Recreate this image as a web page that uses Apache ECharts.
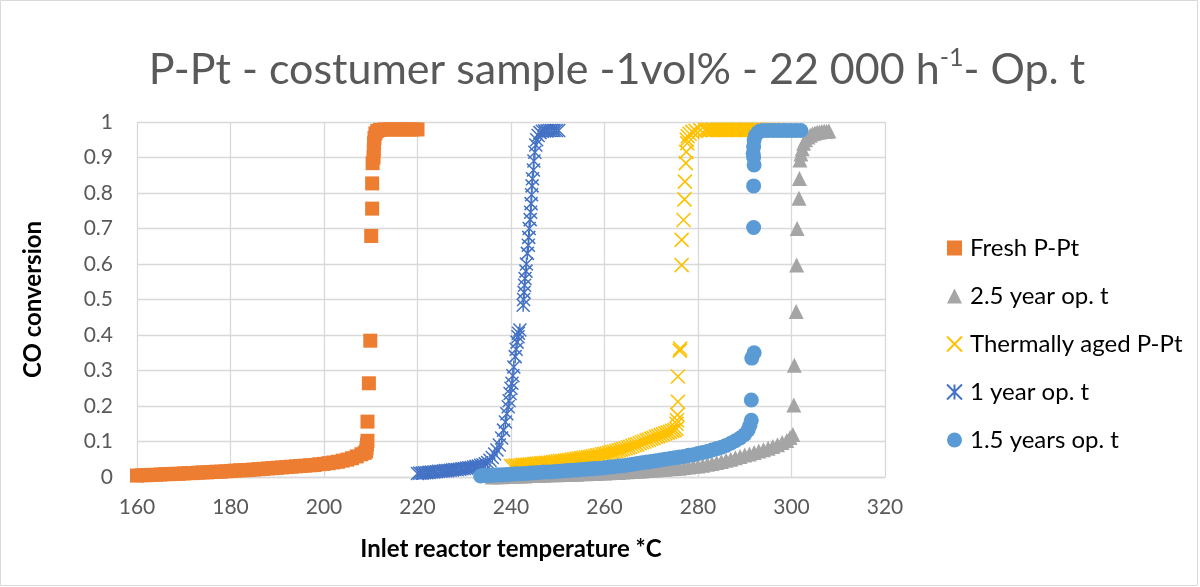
<!DOCTYPE html>
<html>
<head>
<meta charset="utf-8">
<script src="https://cdn.jsdelivr.net/npm/echarts@6/dist/echarts.min.js"></script>
<style>
html,body{margin:0;padding:0;background:#fff;}
#chart{width:1200px;height:587px;}
</style>
</head>
<body>
<div id="chart"></div>
<script>
// ---- data: [temperature °C, CO conversion] ----
var seriesNames = ['Fresh P-Pt', '2.5 year op. t', 'Thermally aged P-Pt', '1 year op. t', '1.5 years op. t'];
var xTicks = [160, 180, 200, 220, 240, 260, 280, 300, 320];
var yTicks = [0, 0.1, 0.2, 0.3, 0.4, 0.5, 0.6, 0.7, 0.8, 0.9, 1];

var freshData = [
  [160,.004],[161,.005],[162,.005],[163,.006],[164,.006],[165,.007],[166,.008],[167,.008],[168,.009],[169,.009],
  [170,.010],[171,.011],[172,.011],[173,.012],[174,.013],[175,.013],[176,.014],[177,.015],[178,.015],[179,.016],
  [180,.017],[181,.018],[182,.019],[183,.019],[184,.020],[185,.021],[186,.022],[187,.023],[188,.024],[189,.025],
  [190,.026],[191,.027],[192,.028],[193,.029],[194,.030],[195,.031],[196,.032],[197,.033],[198,.034],[199,.036],
  [200,.037],[201,.039],[202,.041],[203,.043],[204,.046],[205,.049],[206,.053],[207,.058],[208,.064],[208.7,.068],
  [209,.072],[209.1,.082],[209.2,.092],[209.3,.102],
  [209.3,.156],[209.6,.264],[209.9,.384],[210.1,.679],[210.3,.756],[210.3,.827],[210.4,.884],
  [210.6,.90],[210.65,.92],[210.7,.94],[210.8,.955],[211,.968],[211.4,.975],[212,.978],[213,.979],[214,.979],
  [215,.979],[216,.979],[217,.979],[218,.979],[219,.979],[220,.979]
];

var grayData = [
  [236,.000],[237,.001],[238,.001],[239,.002],[240,.002],[241,.003],[242,.003],[243,.003],[244,.004],[245,.004],
  [246,.005],[247,.005],[248,.006],[249,.006],[250,.006],[251,.007],[252,.007],[253,.008],[254,.008],[255,.009],
  [256,.009],[257,.010],[258,.010],[259,.011],[260,.011],[261,.012],[262,.013],[263,.013],[264,.014],[265,.015],
  [266,.016],[267,.016],[268,.017],[269,.018],[270,.019],[271,.020],[272,.021],[273,.022],[274,.023],[275,.024],
  [276,.025],[277,.027],[278,.028],[279,.030],[280,.031],[281,.033],[282,.036],[283,.038],[284,.041],[285,.044],
  [286,.047],[287,.050],[288,.054],[289,.058],[290,.062],[291,.065],[292,.069],[293,.073],[294,.077],[295,.081],
  [296,.086],[297,.091],[298,.097],[299,.103],[299.7,.111],[300.3,.120],
  [300.5,.203],[300.6,.315],[301.0,.466],[301.1,.597],[301.2,.700],[301.6,.785],[301.7,.841],[301.8,.893],
  [302,.910],[302.3,.925],[302.6,.940],[303,.950],[303.5,.958],[304,.963],[304.5,.967],[305,.969],
  [305.5,.971],[306,.972],[306.5,.973],[307,.974],[307.5,.974],[308,.975]
];

var yellowData = [
  [240,.031],[240.5,.031],[241,.032],[241.5,.032],[242,.033],[242.5,.034],[243,.034],[243.5,.035],[244,.035],[244.5,.036],
  [245,.037],[245.5,.037],[246,.038],[246.5,.039],[247,.039],[247.5,.040],[248,.040],[248.5,.041],[249,.042],[249.5,.043],
  [250,.044],[250.5,.045],[251,.045],[251.5,.046],[252,.047],[252.5,.048],[253,.049],[253.5,.050],[254,.051],[254.5,.052],
  [255,.053],[255.5,.054],[256,.055],[256.5,.056],[257,.057],[257.5,.058],[258,.060],[258.5,.061],[259,.062],[259.5,.064],
  [260,.065],[260.5,.066],[261,.068],[261.5,.070],[262,.071],[262.5,.073],[263,.075],[263.5,.077],[264,.079],[264.5,.081],
  [265,.083],[265.5,.085],[266,.088],[266.5,.090],[267,.092],[267.5,.095],[268,.098],[268.5,.100],[269,.103],[269.5,.105],
  [270,.108],[270.5,.110],[271,.113],[271.5,.115],[272,.118],[272.5,.120],[273,.123],[273.5,.125],[274,.127],[274.5,.130],
  [275,.132],[275.4,.136],
  [275.4,.150],[275.5,.160],[275.6,.175],[275.7,.212],[275.7,.283],[276.1,.356],[276.2,.362],[276.5,.597],
  [276.5,.668],[276.9,.724],[277.1,.782],[277.2,.832],[277.4,.884],[277.5,.916],[277.7,.940],
  [277.6,.950],[277.8,.960],[278.2,.967],[278.8,.972],[279.5,.975],[280.5,.977],[281.5,.978],[282,.978],
  [282.5,.978],[283,.978],[283.5,.978],[284,.978],[284.5,.978],[285,.978],[285.5,.978],[286,.978],[286.5,.978],
  [287,.978],[287.5,.978],[288,.978],[288.5,.978],[289,.978],[289.5,.978],[290,.978],[290.5,.978],[291,.978],
  [291.5,.978],[292,.978],[292.5,.978],[293,.978],[294,.978],[295,.978],[296,.978],[297,.978]
];

var blueData = [
  [220,.010],[220.5,.011],[221,.011],[221.5,.012],[222,.012],[222.5,.013],[223,.014],[223.5,.014],[224,.015],[224.5,.016],
  [225,.016],[225.5,.017],[226,.018],[226.5,.018],[227,.019],[227.5,.020],[228,.021],[228.5,.021],[229,.022],[229.5,.023],
  [230,.024],[230.5,.025],[231,.026],[231.5,.027],[232,.028],[232.5,.030],[233,.031],[233.5,.033],[234,.034],
  [234.5,.037],[235,.041],[235.5,.047],[236,.055],[236.5,.065],[237,.076],[237.5,.090],[238,.110],[238.4,.132],
  [238.8,.155],[239.1,.178],[239.4,.198],[239.6,.215],[239.8,.235],[240,.250],[240.2,.264],[240.4,.285],[240.6,.310],
  [240.9,.339],[241.1,.360],[241.3,.380],[241.5,.395],[241.6,.405],[241.9,.414],
  [242.6,.484],[242.7,.500],[242.8,.520],[242.9,.540],[243.0,.559],[243.2,.580],[243.3,.600],[243.5,.630],
  [243.7,.653],[243.8,.675],[243.9,.700],[244.1,.725],[244.2,.746],[244.3,.770],[244.4,.795],[244.5,.820],
  [244.6,.840],[244.8,.865],[244.9,.890],[245.1,.915],[245.3,.935],[245.5,.950],[245.8,.962],[246.2,.970],
  [246.7,.974],[247.2,.975],[247.7,.975],[248.2,.976],[248.7,.976],[249.2,.976],[249.7,.976],[250.2,.976]
];

var lightBlueData = [
  [233.5,.003],[234,.004],[235,.004],[236,.005],[237,.006],[238,.006],[239,.007],[240,.008],[241,.009],[242,.009],
  [243,.010],[244,.011],[245,.012],[246,.013],[247,.014],[248,.014],[249,.015],[250,.016],[251,.017],[252,.018],
  [253,.019],[254,.020],[255,.021],[256,.022],[257,.023],[258,.024],[259,.025],[260,.026],[261,.028],[262,.029],
  [263,.031],[264,.032],[265,.034],[266,.036],[267,.038],[268,.040],[269,.042],[270,.044],[271,.046],[272,.048],
  [273,.050],[274,.052],[275,.054],[276,.056],[277,.058],[278,.061],[279,.063],[280,.066],[281,.069],[282,.072],
  [283,.076],[284,.080],[285,.084],[286,.089],[287,.095],[288,.102],[289,.110],[290,.120],[290.7,.132],[291.1,.145],
  [291.4,.160],
  [291.4,.217],[291.5,.335],[292.0,.350],[291.9,.703],[291.9,.820],[292.0,.879],[291.9,.900],[291.8,.912],
  [291.9,.930],[292.0,.949],[292.3,.962],[292.8,.970],[293.3,.975],[294,.976],[295,.976],[296,.976],[297,.976],
  [298,.976],[299,.976],[300,.976],[301,.976],[302,.976]
];

var colors = ['#ED7D31', '#A5A5A5', '#FFC000', '#4472C4', '#5B9BD5'];
var FONT = 'Lato';

var chart = echarts.init(document.getElementById('chart'), null, {renderer: 'canvas'});
var xSym = 'path://M0,0L10,10M10,0L0,10';
var starSym = 'path://M0,0L10,10M10,0L0,10M5,0L5,10';

chart.setOption({
  animation: false,
  backgroundColor: '#fff',
  color: colors,
  title: {
    text: '{a|P-Pt - costumer sample -1vol% - 22 000 h}{b|-1}{a|- Op. t}',
    left: 612, top: 40, textAlign: 'center',
    textStyle: {
      fontFamily: FONT, fontWeight: 'normal',
      rich: {
        a: {fontFamily: FONT, fontWeight: 'normal', fontSize: 43, color: '#595959', lineHeight: 50},
        b: {fontFamily: FONT, fontWeight: 'normal', fontSize: 25, color: '#595959', verticalAlign: 'top', lineHeight: 50, padding: [0,0,20,0]}
      }
    }
  },
  legend: {
    orient: 'vertical', left: 941, top: 231,
    itemWidth: 15, itemHeight: 15, itemGap: 24,
    data: seriesNames,
    textStyle: {fontFamily: FONT, fontSize: 24, color: '#000', lineHeight: 24, padding: [0,0,0,3]}
  },
  grid: {left: 137, right: 315, top: 122, bottom: 110, containLabel: false},
  xAxis: {
    type: 'value', min: xTicks[0], max: xTicks[xTicks.length - 1], interval: 20,
    name: 'Inlet reactor temperature *C', nameLocation: 'middle', nameGap: 60,
    nameTextStyle: {fontFamily: FONT, fontSize: 24, fontWeight: 'bold', color: '#000'},
    axisLine: {show: true, lineStyle: {color: '#d9d9d9', width: 1.3}},
    axisTick: {show: false},
    axisLabel: {fontFamily: FONT, fontSize: 21, color: '#595959', margin: 20},
    splitLine: {show: true, lineStyle: {color: '#d9d9d9', width: 1.3}}
  },
  yAxis: {
    type: 'value', min: yTicks[0], max: yTicks[yTicks.length - 1], interval: 0.1,
    name: 'CO conversion', nameLocation: 'middle', nameGap: 92, nameRotate: 90,
    nameTextStyle: {fontFamily: FONT, fontSize: 24, fontWeight: 'bold', color: '#000'},
    axisLine: {show: false},
    axisTick: {show: false},
    axisLabel: {fontFamily: FONT, fontSize: 21, color: '#595959', margin: 24},
    splitLine: {show: true, lineStyle: {color: '#d9d9d9', width: 1.3}}
  },
  graphic: [{
    type: 'rect', silent: true, z: 100,
    shape: {x: 0.5, y: 0.5, width: 1197, height: 585},
    style: {fill: 'none', stroke: '#d9d9d9', lineWidth: 1}
  }],
  series: [
    {name: seriesNames[0], type: 'scatter', data: freshData, symbol: 'rect', symbolSize: 14,
     itemStyle: {color: colors[0], opacity: 1}},
    {name: seriesNames[1], type: 'scatter', data: grayData, symbol: 'triangle', symbolSize: 15,
     itemStyle: {color: colors[1], opacity: 1}},
    {name: seriesNames[2], type: 'scatter', data: yellowData, symbol: xSym, symbolSize: 14,
     itemStyle: {color: colors[2], borderColor: colors[2], borderWidth: 1.6, opacity: 1}},
    {name: seriesNames[3], type: 'scatter', data: blueData, symbol: starSym, symbolSize: 13,
     itemStyle: {color: colors[3], borderColor: colors[3], borderWidth: 1.5, opacity: 1}},
    {name: seriesNames[4], type: 'scatter', data: lightBlueData, symbol: 'circle', symbolSize: 15,
     itemStyle: {color: colors[4], opacity: 1}}
  ]
});
</script>
</body>
</html>
